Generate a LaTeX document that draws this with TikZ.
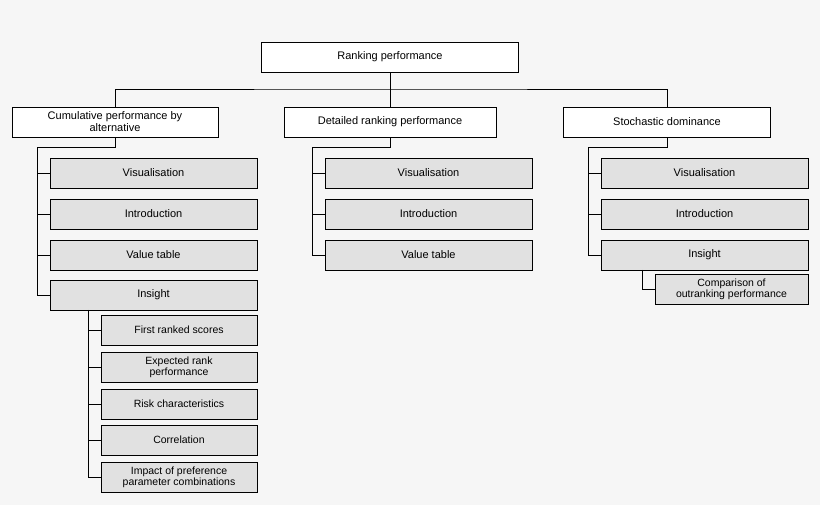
\documentclass[tikz,border=0pt]{standalone}
\usepackage{fontspec}
\setmainfont{Liberation Sans}
\usetikzlibrary{positioning}
\definecolor{bggray}{RGB}{246,246,246}
\definecolor{boxgray}{RGB}{225,225,225}

\begin{document}
\begin{tikzpicture}[
        x=1pt, y=-1pt,
        head/.style={rectangle, draw, thick, fill=white, minimum height=30pt, align=center, font=\fontsize{11}{12}\selectfont, inner sep=1pt},
        item/.style={rectangle, draw, thick, fill=boxgray, minimum width=207pt, minimum height=30pt, align=center, font=\fontsize{11}{12}\selectfont},
        sub/.style={rectangle, draw, thick, fill=boxgray, minimum width=156pt, minimum height=30pt, align=center, font=\fontsize{10.5}{11}\selectfont, inner sep=1pt},
        link/.style={thick}
    ]
        \fill[bggray] (0,0) rectangle (820,505);
        \useasboundingbox (0,0) rectangle (820,505);

        \node[head, minimum width=257pt] (root) at (390,57) {Ranking performance};
        \node[head, minimum width=206pt] (cum) at (115,122) {Cumulative performance by\\alternative};
        \node[head, minimum width=212pt] (det) at (390,122) {Detailed ranking performance};
        \node[head, minimum width=207pt] (sto) at (667,122) {Stochastic dominance};

        % top level links
        \coordinate (hub) at (390,89);
        \draw[link] (root) -- (hub);
        \draw[link] (cum.north) |- (hub) -| (sto.north);
        \draw[link] (hub) -- (det.north);

        % cumulative column
        \node[item] (cvis) at (153.5,173) {Visualisation};
        \node[item] (cint) at (153.5,214) {Introduction};
        \node[item] (cval) at (153.5,255) {Value table};
        \node[item] (cins) at (153.5,295) {Insight};
        \node[sub] (first) at (179,330) {First ranked scores};
        \node[sub] (exp) at (179,367) {Expected rank\\performance};
        \node[sub] (risk) at (179,404) {Risk characteristics};
        \node[sub] (corr) at (179,440) {Correlation};
        \node[sub] (impact) at (179,477) {Impact of preference\\parameter combinations};

        \coordinate (cbend) at (37,147);
        \draw[link] (cum.south) |- (cbend) |- (cins.west);
        \foreach \n in {cvis,cint,cval}
            \draw[link] (\n.west) -- (\n.west -| cbend);
        \coordinate (ibend) at (88,310);
        \draw[link] (ibend) |- (impact.west);
        \foreach \n in {first,exp,risk,corr}
            \draw[link] (\n.west) -- (\n.west -| ibend);

        % detailed column
        \node[item] (dvis) at (428.5,173) {Visualisation};
        \node[item] (dint) at (428.5,214) {Introduction};
        \node[item] (dval) at (428.5,255) {Value table};
        \coordinate (dbend) at (312,147);
        \draw[link] (det.south) |- (dbend) |- (dval.west);
        \foreach \n in {dvis,dint}
            \draw[link] (\n.west) -- (\n.west -| dbend);

        % stochastic column
        \node[item] (svis) at (704.5,173) {Visualisation};
        \node[item] (sint) at (704.5,214) {Introduction};
        \node[item] (sins) at (704.5,255) {Insight};
        \node[sub, minimum width=153pt] (comp) at (731.5,289) {Comparison of\\outranking performance};
        \coordinate (sbend) at (588,147);
        \draw[link] (sto.south) |- (sbend) |- (sins.west);
        \foreach \n in {svis,sint}
            \draw[link] (\n.west) -- (\n.west -| sbend);
        \coordinate (cbend2) at (642,270);
        \draw[link] (cbend2) |- (comp.west);
    \end{tikzpicture}
\end{document}
